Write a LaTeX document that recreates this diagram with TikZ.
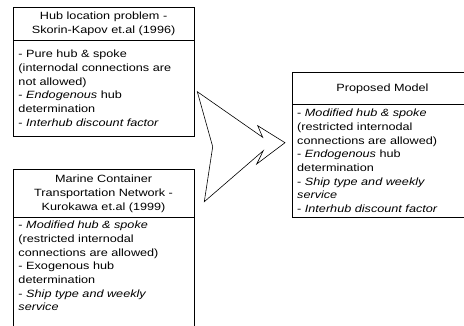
\documentclass[tikz,border=0pt]{standalone}
\usepackage{fontspec}
\usepackage{graphicx}
\setmainfont{Liberation Sans}
\newcommand{\wtxtc}[1]{\scalebox{1.205}[1]{\fontsize{10.5}{13.7}\selectfont\begin{tabular}{@{}c@{}}#1\end{tabular}}}
\newcommand{\wtxtl}[1]{\scalebox{1.205}[1]{\fontsize{10.5}{13.7}\selectfont\begin{tabular}{@{}l@{}}#1\end{tabular}}}
\begin{document}
\begin{tikzpicture}[x=1pt,y=-1pt,
  frame/.style={line width=0.6pt,black},
  title/.style={inner sep=0pt, anchor=north},
  body/.style={inner sep=0pt, anchor=north west}]
\useasboundingbox (0,0) rectangle (464,326);
\clip (0,0) rectangle (464,326);
% box 1
\draw[frame] (13,7.7) rectangle (194,136);
\draw[frame] (13,40) -- (194,40);
\node[title] (t1) at (103.6,9.8) {\wtxtc{Hub location problem -\\Skorin-Kapov et.al (1996)}};
\node[body] (b1) at (18.3,48.1) {\wtxtl{- Pure hub \& spoke\\(internodal connections are\\not allowed)\\- \textit{Endogenous} hub\\determination\\- \textit{Interhub discount factor}}};
% box 2
\draw[frame] (13,330) -- (13,169) -- (194,169) -- (194,330);
\draw[frame] (13,217) -- (194,217);
\node[title] (t2) at (103.6,173) {\wtxtc{Marine Container\\Transportation Network -\\Kurokawa et.al (1999)}};
\node[body] (b2) at (18.3,219) {\wtxtl{- \textit{Modified hub \& spoke}\\(restricted internodal\\connections are allowed)\\- Exogenous hub\\determination\\- \textit{Ship type and weekly}\\\textit{service}}};
% box 3
\draw[frame] (470,72) -- (292,72) -- (292,217) -- (470,217);
\draw[frame] (292,104) -- (470,104);
\node[title] (t3) at (382.5,82) {\wtxtc{Proposed Model}};
\node[body] (b3) at (297,107) {\wtxtl{- \textit{Modified hub \& spoke}\\(restricted internodal\\connections are allowed)\\- \textit{Endogenous} hub\\determination\\- \textit{Ship type and weekly}\\\textit{service}\\- \textit{Interhub discount factor}}};
% arrow
\draw[line width=0.6pt, line join=miter] (197.3,91.7) -- (262.7,137.3) -- (257.7,125.7) -- (285,142.7) -- (256.7,164) -- (263.3,150.7) -- (204.3,201.7) -- (212.7,146.7) -- cycle;
\end{tikzpicture}
\end{document}
